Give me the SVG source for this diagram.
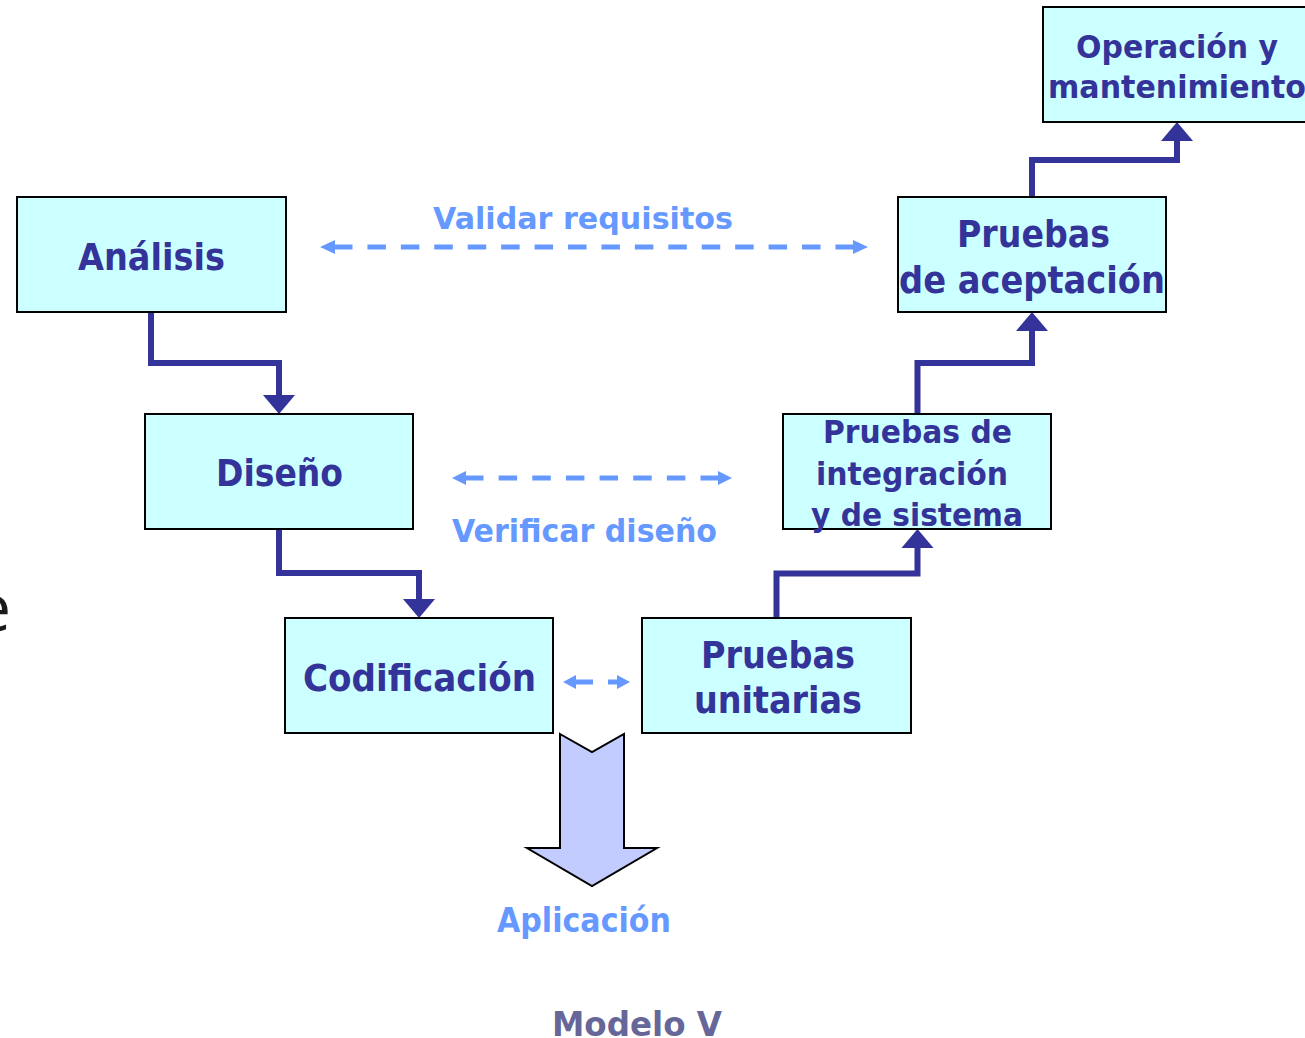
<svg xmlns="http://www.w3.org/2000/svg" width="1305" height="1038" viewBox="0 0 1305 1038">
<style>
.box{fill:#CCFFFF;stroke:#000;stroke-width:2}
.nt{font-family:"DejaVu Sans","Liberation Sans",sans-serif;font-weight:bold;fill:#333399;text-anchor:middle}
.bl{font-family:"DejaVu Sans","Liberation Sans",sans-serif;font-weight:bold;fill:#6699FF;text-anchor:middle}
.flow{fill:none;stroke:#333399;stroke-width:6;stroke-linejoin:miter}
.fh{fill:#333399}
.dash{fill:none;stroke:#6699FF;stroke-width:5}
.dh{fill:#6699FF}
</style>
<rect width="1305" height="1038" fill="#fff"/>
<text x="-26" y="631" font-family="'Open Sans',sans-serif" font-size="66" fill="#1a1a1a">e</text>

<g id="connectors">
  <path class="flow" d="M151 312 V363 H279 V397"/>
  <polygon class="fh" points="263,395 295,395 279,414"/>
  <path class="flow" d="M279 529 V573 H419 V601"/>
  <polygon class="fh" points="403,599 435,599 419,618"/>
  <path class="flow" d="M776.5 618 V573.5 H917.5 V546"/>
  <polygon class="fh" points="901.5,548 933.5,548 917.5,529"/>
  <path class="flow" d="M917.5 414 V363 H1032 V329"/>
  <polygon class="fh" points="1016,331 1048,331 1032,312"/>
  <path class="flow" d="M1032 197 V160 H1177 V139"/>
  <polygon class="fh" points="1161,141 1193,141 1177,122"/>

  <line class="dash" x1="334" y1="247" x2="854" y2="247" stroke-dasharray="18.5 14.93"/>
  <polygon class="dh" points="320,247 335,240 335,254"/>
  <polygon class="dh" points="868,247 853,240 853,254"/>

  <line class="dash" x1="465" y1="478" x2="719" y2="478" stroke-dasharray="18.5 15.14"/>
  <polygon class="dh" points="452,478 466,471 466,485"/>
  <polygon class="dh" points="732,478 718,471 718,485"/>

  <line class="dash" x1="575" y1="682" x2="593" y2="682"/>
  <line class="dash" x1="608" y1="682" x2="619" y2="682"/>
  <polygon class="dh" points="563,682 576,675 576,689"/>
  <polygon class="dh" points="630,682 617,675 617,689"/>
</g>

<g id="analisis">
  <rect class="box" x="17" y="197" width="269" height="115"/>
  <text class="nt" x="151.5" y="270" font-size="38" textLength="147" lengthAdjust="spacingAndGlyphs">Análisis</text>
</g>
<g id="diseno">
  <rect class="box" x="145" y="414" width="268" height="115"/>
  <text class="nt" x="279.5" y="486" font-size="38" textLength="127" lengthAdjust="spacingAndGlyphs">Diseño</text>
</g>
<g id="codificacion">
  <rect class="box" x="285" y="618" width="268" height="115"/>
  <text class="nt" x="419.5" y="691" font-size="38" textLength="233" lengthAdjust="spacingAndGlyphs">Codificación</text>
</g>
<g id="pruebas-unitarias">
  <rect class="box" x="642" y="618" width="269" height="115"/>
  <text class="nt" x="778" y="668" font-size="38" textLength="154" lengthAdjust="spacingAndGlyphs">Pruebas</text>
  <text class="nt" x="778" y="713" font-size="38" textLength="168" lengthAdjust="spacingAndGlyphs">unitarias</text>
</g>
<g id="pruebas-integracion">
  <rect class="box" x="783" y="414" width="268" height="115"/>
  <text class="nt" x="917.5" y="443" font-size="31.5" textLength="189" lengthAdjust="spacingAndGlyphs">Pruebas de</text>
  <text class="nt" x="912" y="485" font-size="31.5" textLength="192" lengthAdjust="spacingAndGlyphs">integración</text>
  <text class="nt" x="917" y="526" font-size="31.5" textLength="212" lengthAdjust="spacingAndGlyphs">y de sistema</text>
</g>
<g id="pruebas-aceptacion">
  <rect class="box" x="898" y="197" width="268" height="115"/>
  <text class="nt" x="1033.5" y="247" font-size="38" textLength="153" lengthAdjust="spacingAndGlyphs">Pruebas</text>
  <text class="nt" x="1032" y="293" font-size="38" textLength="266" lengthAdjust="spacingAndGlyphs">de aceptación</text>
</g>
<g id="operacion">
  <rect class="box" x="1043" y="7" width="270" height="115"/>
  <text class="nt" x="1177" y="58" font-size="32.5" textLength="202" lengthAdjust="spacingAndGlyphs">Operación y</text>
  <text class="nt" x="1177" y="98" font-size="32.5" textLength="258" lengthAdjust="spacingAndGlyphs">mantenimiento</text>
</g>

<g id="aplicacion">
  <polygon points="560,734 592,752 624,734 624,848 657,848 592,886 527,848 560,848" fill="#C2CCFF" stroke="#000" stroke-width="2"/>
  <text class="bl" x="584" y="932" font-size="34" textLength="174" lengthAdjust="spacingAndGlyphs">Aplicación</text>
</g>

<g id="labels">
  <text class="bl" x="583" y="229" font-size="31" textLength="300" lengthAdjust="spacingAndGlyphs">Validar requisitos</text>
  <text class="bl" x="584.5" y="542" font-size="32" textLength="265" lengthAdjust="spacingAndGlyphs">Verificar diseño</text>
  <text x="637" y="1036" font-family="'DejaVu Sans','Liberation Sans',sans-serif" font-weight="bold" fill="#666699" text-anchor="middle" font-size="34" textLength="170" lengthAdjust="spacingAndGlyphs">Modelo V</text>
</g>
</svg>
